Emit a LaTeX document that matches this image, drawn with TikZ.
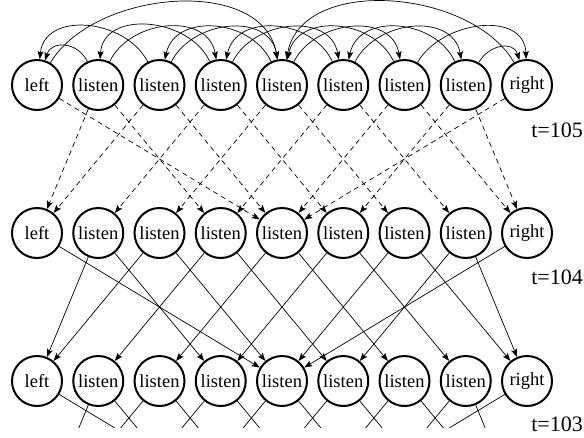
\documentclass[tikz,border=0pt]{standalone}
\usepackage{fontspec}
\setmainfont{Liberation Serif}
\usetikzlibrary{arrows.meta}
\begin{document}
\begin{tikzpicture}[x=1pt,y=-1pt,
  st/.style={circle,draw,line width=2pt,minimum size=50pt,inner sep=0pt,font=\fontsize{18.5}{18.5}\selectfont},
  tl/.style={font=\fontsize{22}{22}\selectfont,anchor=east,inner sep=0pt},
  ed/.style={line width=0.7pt,-{Stealth[length=8pt,width=6pt,inset=1.5pt]}},
  dd/.style={ed,dash pattern=on 5pt off 4pt},
  stub/.style={line width=0.7pt}
]
\useasboundingbox (0,0) rectangle (584,437);
\foreach \i/\l in {0/left,1/listen,2/listen,3/listen,4/listen,5/listen,6/listen,7/listen,8/right}{
  \node[st] (a\i) at ({37+61.25*\i},85) {\l};
  \node[st] (b\i) at ({37+61.25*\i},233) {\l};
  \node[st] (c\i) at ({37+61.25*\i},381) {\l};
  \coordinate (d\i) at ({37+61.25*\i},529);
}
\node[tl] (t105) at (583,130) {t=105};
\node[tl] (t104) at (583,277) {t=104};
\node[tl] (t103) at (583,424) {t=103};
% transitions between rows
\foreach \s/\t in {0/4,1/0,1/3,2/0,2/4,3/1,3/5,4/2,4/6,5/3,5/7,6/4,6/8,7/5,7/8,8/4}{
  \draw[dd] (a\s) -- (b\t);
  \draw[ed] (b\s) -- (c\t);
}
\begin{scope}
  \clip (0,392) rectangle (584,427);
  \foreach \s/\t in {0/4,1/0,1/3,2/0,2/4,3/1,3/5,4/2,4/6,5/3,5/7,6/4,6/8,7/5,7/8,8/4}{
    \draw[stub] (c\s) -- (d\t);
  }
\end{scope}
% arcs in the top row
\foreach \s/\t/\o/\n/\l in {1/0/115/72/1.3, 2/0/117/84/1.15, 3/1/115/86/1.15, 4/2/115/78/1.15,
  5/3/115/78/1.15, 6/4/115/78/1.15, 7/5/115/78/1.15, 8/4/120/80/0.96,
  0/4/59/100/0.96, 1/3/64/100/1.15, 2/4/63/100/1.15, 3/5/63/100/1.15, 4/6/63/100/1.15,
  5/7/63/100/1.15, 6/8/60/92/1.15, 7/8/60/107/1.3}{
  \draw[ed] (a\s) to[out=\o,in=\n,looseness=\l] (a\t);
}
\end{tikzpicture}
\end{document}
